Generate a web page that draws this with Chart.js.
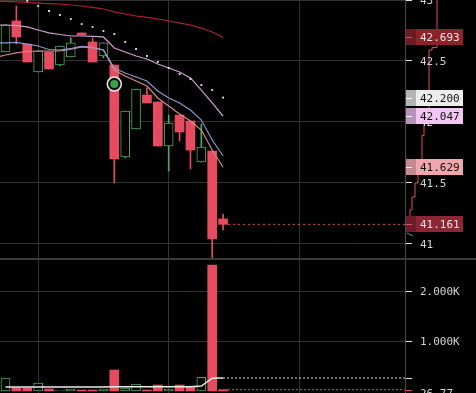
<!DOCTYPE html>
<html>
<head>
<meta charset="utf-8">
<script src="https://cdn.jsdelivr.net/npm/chart.js@4.4.1/dist/chart.umd.min.js"></script>
<style>
  html, body { margin: 0; padding: 0; background: #000; }
  #wrap { position: relative; width: 476px; height: 393px; overflow: hidden; background: #000; }
  #pricePane { position: absolute; left: 0; top: 0; width: 476px; height: 258px; }
  #sep { position: absolute; left: 0; top: 258px; width: 476px; height: 2px; background: #3a3a3a; }
  #volPane { position: absolute; left: 0; top: 260px; width: 476px; height: 133px; }
</style>
</head>
<body>
<div id="wrap">
  <div id="pricePane"><canvas id="price"></canvas></div>
  <div id="sep"></div>
  <div id="volPane"><canvas id="volume"></canvas></div>
</div>
<script>
// candles, one per bar (index 0..20)
const opens  = [42.574, 42.828, 42.639, 42.410, 42.574, 42.467, 42.533, 42.730, 42.656, 42.541, 42.467, 41.713, 41.943, 42.221, 42.164, 41.803, 42.057, 42.008, 41.672, 41.762, 41.205];
const highs  = [42.795, 42.951, 42.639, 42.582, 42.574, 42.623, 42.689, 42.730, 42.689, 42.648, 42.467, 42.090, 42.270, 42.279, 42.164, 42.057, 42.057, 42.008, 41.984, 41.762, 41.246];
const lows   = [42.574, 42.639, 42.492, 42.410, 42.434, 42.459, 42.533, 42.713, 42.492, 42.525, 41.500, 41.705, 41.943, 42.156, 41.803, 41.598, 41.844, 41.615, 41.672, 40.885, 41.115];
const closes = [42.795, 42.697, 42.492, 42.582, 42.434, 42.623, 42.648, 42.713, 42.492, 42.648, 41.697, 42.090, 42.270, 42.156, 41.803, 41.992, 41.918, 41.770, 41.795, 41.041, 41.161];
const volumes  = [260, 60, 60, 160, 40, 20, 40, 20, 20, 40, 420, 60, 140, 20, 120, 40, 120, 95, 275, 2520, 26.77];
const volumeMA = [80, 80, 80, 80, 80, 80, 80, 80, 80, 80, 85, 85, 85, 85, 85, 85, 85, 85, 100, 255, 260];

// moving averages, first value is one bar before the first candle
const MA_START = -1;
const maRed    = [42.990, 42.988, 42.984, 42.980, 42.975, 42.971, 42.967, 42.959, 42.951, 42.939, 42.926, 42.902, 42.885, 42.869, 42.857, 42.844, 42.828, 42.811, 42.795, 42.770, 42.738, 42.693];
const maPink   = [42.795, 42.795, 42.791, 42.779, 42.754, 42.730, 42.717, 42.705, 42.705, 42.701, 42.697, 42.607, 42.574, 42.541, 42.516, 42.475, 42.443, 42.410, 42.361, 42.262, 42.156, 42.047];
const maBlue   = [42.648, 42.648, 42.652, 42.639, 42.623, 42.594, 42.590, 42.602, 42.619, 42.611, 42.590, 42.443, 42.402, 42.369, 42.336, 42.254, 42.197, 42.156, 42.098, 42.016, 41.852, 41.721];
const maSalmon = [42.525, 42.549, 42.566, 42.578, 42.582, 42.582, 42.582, 42.598, 42.615, 42.607, 42.590, 42.426, 42.377, 42.336, 42.295, 42.197, 42.131, 42.066, 42.008, 41.934, 41.770, 41.629];

// parabolic sar dots
const sar = [null, null, 42.992, 42.951, 42.910, 42.877, 42.844, 42.803, 42.779, 42.746, 42.721, 42.656, 42.598, 42.541, 42.492, 42.443, 42.393, 42.352, 42.303, 42.262, 42.200];

// buy signal marker
const signalIdx = [10];
const signalPrice = [42.311];

// order book depth shown in the price axis
const askDepthSize  = [3.2, 2.7, 2.4, 1.9, 1.7, 1.3, 1.0, 0.7, 0.5, 0.3, 0.2];
const askDepthPrice = [43.05, 42.61, 42.59, 42.10, 41.89, 41.61, 41.50, 41.385, 41.28, 41.22, 41.161];
const bidDepthSize  = [0.2, 0.8, 1.1, 1.4];
const bidDepthPrice = [41.09, 41.066, 41.02, 40.934];

// axis ticks
const priceTicks = [41, 41.5, 42, 42.5, 43];
const volumeTicks = [1000, 2000];
const timeGrid = [3, 15, 27];

const RED = '#e64b5f';
const GREEN = '#4fa85a';
const GRID = '#333333';
const X_MIN = -0.5055, X_MAX = 36.72;
const DEPTH_STEP = 0.92; // bars per depth unit, depth starts at the price axis
const n = closes.length;
const idx = closes.map((_, i) => i);
const isUp = i => closes[i] >= opens[i];
const last = a => a[a.length - 1];
const lineData = arr => arr.map((v, k) => ({ x: k + MA_START, y: v }));
const depthData = (sizes, prices) => sizes.map((v, k) => ({ x: X_MAX + v * DEPTH_STEP, y: prices[k] }));

function xScale() {
  return {
    type: 'linear', position: 'bottom', min: X_MIN, max: X_MAX, offset: false,
    grid: { color: GRID, drawTicks: false, offset: false },
    border: { display: false },
    ticks: { display: false },
    afterBuildTicks: s => { s.ticks = timeGrid.map(v => ({ value: v })); },
    afterFit: s => { s.height = 0; }
  };
}
function rightAxis(s) { s.width = 71; }

function maLine(arr, color) {
  return { type: 'line', data: lineData(arr), borderColor: color, borderWidth: 1.2,
           pointRadius: 0, tension: 0, order: 2, xAxisID: 'x' };
}

// axis tick labels drawn as text next to the tick marks
function drawTickLabels(chart, values, fmt) {
  const ctx = chart.ctx, y = chart.scales.y;
  ctx.save();
  ctx.font = '11px "DejaVu Sans Mono"';
  ctx.textBaseline = 'middle';
  ctx.fillStyle = '#d4d4d4';
  values.forEach(v => ctx.fillText(fmt(v), 420, Math.round(y.getPixelForValue(v)) + 1));
  ctx.restore();
}

const priceTags = [
  { value: last(maRed),    bg: '#8a2429', side: '#6b1c20', tick: '#e05565', fg: '#f2e4e4' },
  { value: last(sar),      bg: '#ececec', side: '#b4b4b4', tick: '#ffffff', fg: '#111111' },
  { value: last(maPink),   bg: '#f2c6f2', side: '#b893b8', tick: '#ffffff', fg: '#111111' },
  { value: last(maSalmon), bg: '#f0a6ac', side: '#c8898e', tick: '#ffffff', fg: '#111111' },
  { value: last(closes),   bg: '#8c2634', side: '#6a1d27', tick: '#e05565', fg: '#f2e4e4' }
];

const tagPlugin = {
  id: 'tags',
  afterDraw(chart) {
    drawTickLabels(chart, priceTicks, v => String(+v.toFixed(1)));
    const ctx = chart.ctx, y = chart.scales.y, left = y.left + 1;
    ctx.save();
    ctx.font = '11px "DejaVu Sans Mono"';
    ctx.textBaseline = 'middle';
    priceTags.forEach(t => {
      const py = Math.round(y.getPixelForValue(t.value));
      ctx.fillStyle = t.bg;
      ctx.fillRect(left, py - 8, 57, 16);
      ctx.fillStyle = t.side;
      ctx.fillRect(left, py - 8, 10, 16);
      ctx.fillStyle = t.tick;
      ctx.fillRect(left, py, 6, 1);
      ctx.fillStyle = t.fg;
      ctx.fillText(t.value.toFixed(3), 420, py + 1);
    });
    ctx.restore();
  }
};

const layout = { padding: 0, autoPadding: false };

new Chart(document.getElementById('price'), {
  type: 'bar',
  data: {
    datasets: [
      { type: 'bar', xAxisID: 'x', grouped: false, order: 3, barThickness: 9,
        data: idx.map(i => ({ x: i, y: [opens[i], closes[i]] })),
        backgroundColor: c => isUp(c.dataIndex) ? '#000' : RED,
        borderColor: c => isUp(c.dataIndex) ? GREEN : RED,
        borderWidth: c => isUp(c.dataIndex) ? 1 : 0,
        borderSkipped: false },
      { type: 'bar', xAxisID: 'x', grouped: false, order: 4, barThickness: 1,
        data: idx.map(i => ({ x: i, y: [lows[i], highs[i]] })),
        backgroundColor: c => isUp(c.dataIndex) ? GREEN : RED, borderWidth: 0 },
      maLine(maRed, '#b0202c'),
      maLine(maPink, '#cf9fd4'),
      maLine(maBlue, '#8c96d0'),
      maLine(maSalmon, '#d68a82'),
      { type: 'line', xAxisID: 'x', order: 1, showLine: false,
        data: sar.map((v, i) => ({ x: i, y: v })),
        pointStyle: 'rect', pointRadius: 1.3, pointBackgroundColor: '#e6e6e6', pointBorderWidth: 0 },
      { type: 'line', xAxisID: 'x', order: 2, borderColor: RED, borderWidth: 1, borderDash: [2, 3],
        pointRadius: 0, data: [{ x: n - 1 + 0.45, y: last(closes) }, { x: X_MAX, y: last(closes) }] },
      { type: 'line', xAxisID: 'x', order: -1, showLine: false,
        data: signalIdx.map((v, k) => ({ x: v, y: signalPrice[k] })),
        pointRadius: 7, pointBackgroundColor: '#111', pointBorderColor: '#ececec', pointBorderWidth: 1.5 },
      { type: 'line', xAxisID: 'x', order: -2, showLine: false,
        data: signalIdx.map((v, k) => ({ x: v, y: signalPrice[k] })),
        pointRadius: 4, pointBackgroundColor: '#3f9f4c', pointBorderWidth: 0 },
      { type: 'line', xAxisID: 'x', order: 5, clip: false, stepped: 'after',
        data: depthData(askDepthSize, askDepthPrice),
        borderColor: RED, borderWidth: 1, pointRadius: 0 },
      { type: 'line', xAxisID: 'x', order: 5, clip: false,
        data: depthData(bidDepthSize, bidDepthPrice),
        borderColor: GREEN, borderWidth: 1, pointRadius: 0 }
    ]
  },
  options: {
    responsive: true, maintainAspectRatio: false, animation: false, events: [],
    layout,
    plugins: { legend: { display: false }, tooltip: { enabled: false } },
    scales: {
      x: xScale(),
      y: {
        position: 'right', min: 40.885, max: 43,
        afterBuildTicks: s => { s.ticks = priceTicks.map(v => ({ value: v })); },
        ticks: { display: false },
        grid: { color: GRID, tickColor: '#e6e6e6', tickLength: 7 },
        border: { display: true, color: '#4a4a4a' },
        afterFit: rightAxis
      }
    }
  },
  plugins: [tagPlugin]
});

const volPlugin = {
  id: 'volTags',
  afterDraw(chart) {
    drawTickLabels(chart, volumeTicks, v => (v / 1000).toFixed(3) + 'K');
    const ctx = chart.ctx, y = chart.scales.y, left = y.left + 1;
    ctx.save();
    const pm = Math.round(y.getPixelForValue(last(volumeMA)));
    const pv = Math.round(y.getPixelForValue(last(volumes)));
    ctx.fillStyle = '#e6e6e6';
    ctx.fillRect(left, pm, 6, 1);
    ctx.fillStyle = RED;
    ctx.fillRect(left, pv, 6, 1);
    ctx.font = '11px "DejaVu Sans Mono"';
    ctx.textBaseline = 'middle';
    ctx.fillStyle = '#d4d4d4';
    ctx.fillText(last(volumes).toFixed(2), 420, pv + 4);
    ctx.restore();
  }
};

new Chart(document.getElementById('volume'), {
  type: 'bar',
  data: {
    datasets: [
      { type: 'bar', xAxisID: 'x', grouped: false, order: 3, barThickness: 9,
        data: idx.map(i => ({ x: i, y: volumes[i] })),
        backgroundColor: c => isUp(c.dataIndex) ? '#000' : RED,
        borderColor: c => isUp(c.dataIndex) ? GREEN : RED,
        borderWidth: c => isUp(c.dataIndex) ? 1 : 0,
        borderSkipped: false },
      { type: 'line', xAxisID: 'x', order: 1, data: idx.map(i => ({ x: i, y: volumeMA[i] })),
        borderColor: '#ececec', borderWidth: 1.5, pointRadius: 0, tension: 0 },
      { type: 'line', xAxisID: 'x', order: 1, borderColor: '#e6e6e6', borderWidth: 1, borderDash: [2, 2],
        pointRadius: 0, data: [{ x: n - 1, y: last(volumeMA) }, { x: X_MAX, y: last(volumeMA) }] },
      { type: 'line', xAxisID: 'x', order: 1, borderColor: RED, borderWidth: 1, borderDash: [2, 2],
        pointRadius: 0, data: [{ x: n - 1 + 0.45, y: last(volumes) }, { x: X_MAX, y: last(volumes) }] }
    ]
  },
  options: {
    responsive: true, maintainAspectRatio: false, animation: false, events: [],
    layout,
    plugins: { legend: { display: false }, tooltip: { enabled: false } },
    scales: {
      x: xScale(),
      y: {
        position: 'right', min: -40, max: 2620,
        afterBuildTicks: s => { s.ticks = volumeTicks.map(v => ({ value: v })); },
        ticks: { display: false },
        grid: { color: GRID, tickColor: '#e6e6e6', tickLength: 7 },
        border: { display: true, color: '#4a4a4a' },
        afterFit: rightAxis
      }
    }
  },
  plugins: [volPlugin]
});
</script>
</body>
</html>
